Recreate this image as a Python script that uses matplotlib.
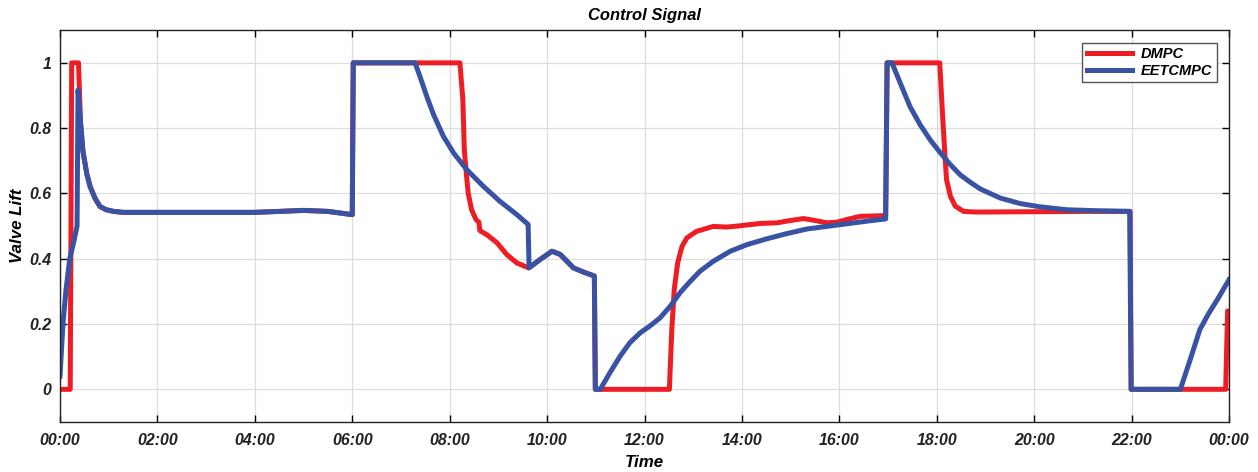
import matplotlib.pyplot as plt
from matplotlib.ticker import FixedLocator

plt.rcParams['font.family'] = ['Liberation Sans', 'DejaVu Sans']

# tiempo en horas
t_dmpc = [0, 0.21, 0.24, 0.38, 0.42, 0.47, 0.55, 0.62, 0.72, 0.82, 0.95, 1.1, 1.3,
          2, 3, 4, 4.5, 5, 5.5, 6.0, 6.02, 7.3, 8.21, 8.27, 8.3, 8.34, 8.38, 8.45,
          8.54, 8.6, 8.62, 8.76, 8.97, 9.17, 9.38, 9.62, 9.86, 10.1, 10.27, 10.54,
          10.75, 10.97, 10.99, 11.1, 12.51, 12.56, 12.61, 12.68, 12.77, 12.87, 13.07,
          13.41, 13.69, 13.96, 14.37, 14.72, 14.99, 15.26, 15.47, 15.74, 15.95, 16.15,
          16.43, 16.95, 16.98, 18.06, 18.12, 18.16, 18.2, 18.28, 18.38, 18.55, 18.8,
          20, 21, 21.97, 21.99, 23.93, 23.97, 24]
v_dmpc = [0, 0, 1.0, 1.0, 0.82, 0.73, 0.66, 0.62, 0.585, 0.56, 0.55, 0.545, 0.542,
          0.542, 0.542, 0.542, 0.545, 0.548, 0.545, 0.535, 1.0, 1.0, 1.0, 0.887, 0.734,
          0.663, 0.601, 0.55, 0.52, 0.512, 0.486, 0.474, 0.449, 0.413, 0.387, 0.372,
          0.398, 0.423, 0.413, 0.372, 0.359, 0.347, 0, 0, 0, 0.183, 0.306, 0.387,
          0.438, 0.464, 0.484, 0.499, 0.497, 0.501, 0.508, 0.51, 0.517, 0.523, 0.518,
          0.51, 0.512, 0.52, 0.53, 0.532, 1.0, 1.0, 0.836, 0.734, 0.642, 0.591, 0.561,
          0.545, 0.543, 0.544, 0.545, 0.545, 0, 0, 0.24, 0.24]

t_eetc = [0, 0.06, 0.12, 0.2, 0.28, 0.35, 0.37, 0.42, 0.47, 0.55, 0.62, 0.72, 0.82,
          0.95, 1.1, 1.3, 2, 3, 4, 4.5, 5, 5.5, 6.0, 6.02, 7.29, 7.39, 7.53, 7.67,
          7.87, 8.08, 8.35, 8.69, 9.03, 9.38, 9.61, 9.63, 9.86, 10.1, 10.27, 10.54,
          10.75, 10.97, 10.99, 11.09, 11.29, 11.5, 11.7, 11.91, 12.11, 12.32, 12.53,
          12.73, 12.94, 13.14, 13.41, 13.76, 14.1, 14.51, 14.92, 15.33, 15.74, 16.15,
          16.56, 16.95, 16.98, 17.08, 17.25, 17.45, 17.66, 17.86, 18.07, 18.28, 18.48,
          18.69, 18.89, 19.3, 19.71, 20.12, 20.67, 21.29, 21.96, 21.99, 23.0, 23.2,
          23.4, 23.58, 23.76, 24]
v_eetc = [0.04, 0.2, 0.3, 0.4, 0.45, 0.5, 0.917, 0.82, 0.73, 0.66, 0.62, 0.585, 0.56,
          0.55, 0.545, 0.542, 0.542, 0.542, 0.542, 0.545, 0.548, 0.545, 0.535, 1.0,
          1.0, 0.958, 0.897, 0.841, 0.775, 0.724, 0.673, 0.622, 0.576, 0.535, 0.505,
          0.372, 0.398, 0.423, 0.413, 0.372, 0.359, 0.347, 0, 0, 0.051, 0.102, 0.143,
          0.173, 0.194, 0.219, 0.255, 0.296, 0.331, 0.362, 0.392, 0.423, 0.443, 0.461,
          0.477, 0.491, 0.499, 0.507, 0.515, 0.522, 1.0, 1.0, 0.938, 0.866, 0.81,
          0.765, 0.725, 0.688, 0.657, 0.634, 0.614, 0.586, 0.569, 0.559, 0.55, 0.547,
          0.545, 0, 0, 0.09, 0.183, 0.232, 0.275, 0.336]

horas = list(range(0, 25, 2))
etiquetas_x = ['%02d:00' % (h % 24) for h in horas]
yticks = [0, 0.2, 0.4, 0.6, 0.8, 1]
etiquetas_y = ['0', '0.2', '0.4', '0.6', '0.8', '1']

fig = plt.figure(figsize=(12.58, 4.72), dpi=100)
ax = fig.add_axes([0.0477, 0.106, 0.9293, 0.830])

ax.plot(t_dmpc, v_dmpc, color='#ee1d23', lw=3.6, label='DMPC')
ax.plot(t_eetc, v_eetc, color='#3953a4', lw=3.6, label='EETCMPC')

ax.set_xlim(0, 24)
ax.set_ylim(-0.1, 1.1)
ax.xaxis.set_major_locator(FixedLocator(horas))
ax.set_xticklabels(etiquetas_x)
ax.set_yticks(yticks)
ax.set_yticklabels(etiquetas_y)

fuente = dict(fontweight='bold', fontstyle='italic')
for lbl in ax.get_xticklabels() + ax.get_yticklabels():
    lbl.set_fontweight('bold')
    lbl.set_fontstyle('italic')
    lbl.set_fontsize(11.4)
    lbl.set_color('#222222')

ax.tick_params(direction='in', length=5, width=1, top=True, right=True)
ax.tick_params(axis='x', pad=8)
ax.tick_params(axis='y', pad=6)
ax.grid(True, color='#dddddd', lw=0.9)
for s in ax.spines.values():
    s.set_linewidth(1)
    s.set_color('#222222')

ax.set_title('Control Signal', fontsize=11.9, pad=7, **fuente)
ax.set_xlabel('Time', fontsize=12.2, labelpad=5, **fuente)
ax.set_ylabel('Valve Lift', fontsize=12.2, labelpad=3, **fuente)

leg = ax.legend(loc='upper right', handlelength=3.1, fancybox=False, framealpha=1,
                edgecolor='#555555', borderaxespad=0.85, borderpad=0.3,
                labelspacing=0.2, handletextpad=0.6,
                prop=dict(family='Liberation Sans', weight='bold', style='italic', size=10.5))
leg.get_frame().set_linewidth(1)

plt.savefig('out.png', dpi=100)
